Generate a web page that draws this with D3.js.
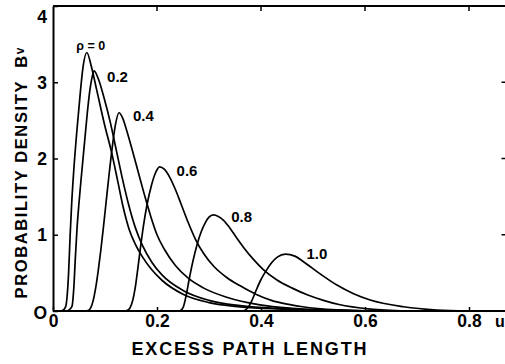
<!DOCTYPE html>
<html>
<head>
<meta charset="utf-8">
<script src="https://cdn.jsdelivr.net/npm/d3@7"></script>
<style>
  body { margin: 0; background: #fff; }
  text { font-family: "Liberation Sans", Arial, sans-serif; font-weight: bold; fill: #000; }
</style>
</head>
<body>
<div id="chart"></div>
<script>
// curve labels (correlation rho)
const curveLabels = ["\u03c1 = 0", "0.2", "0.4", "0.6", "0.8", "1.0"];

// [excess path length u, probability density]
const rho00 = [[0.012,0],[0.019,0.01],[0.024,0.05],[0.027,0.18],[0.030,0.5],[0.033,1.0],[0.036,1.42],[0.040,1.85],[0.046,2.37],[0.053,2.9],[0.058,3.21],[0.065,3.39],[0.074,3.2],[0.084,2.9],[0.100,2.42],[0.112,2.1],[0.124,1.72],[0.135,1.36],[0.146,1.08],[0.158,0.88],[0.172,0.71],[0.19,0.54],[0.21,0.4],[0.25,0.22],[0.3,0.11],[0.36,0.055],[0.44,0.025],[0.53,0.008],[0.64,0]];
const rho02 = [[0.024,0],[0.03,0.01],[0.0365,0.06],[0.04,0.3],[0.043,0.7],[0.046,1.06],[0.050,1.42],[0.055,1.8],[0.0605,2.2],[0.066,2.6],[0.071,2.9],[0.075,3.06],[0.079,3.15],[0.088,3.03],[0.098,2.8],[0.11,2.48],[0.122,2.1],[0.134,1.72],[0.146,1.38],[0.158,1.1],[0.172,0.86],[0.19,0.64],[0.21,0.47],[0.25,0.27],[0.3,0.14],[0.36,0.07],[0.44,0.03],[0.53,0.01],[0.66,0]];
const rho04 = [[0.06,0],[0.067,0.005],[0.072,0.035],[0.077,0.13],[0.082,0.3],[0.087,0.53],[0.092,0.8],[0.097,1.1],[0.102,1.42],[0.108,1.8],[0.114,2.15],[0.12,2.44],[0.127,2.6],[0.134,2.53],[0.142,2.36],[0.152,2.12],[0.164,1.82],[0.176,1.52],[0.188,1.24],[0.2,1.0],[0.215,0.8],[0.235,0.6],[0.26,0.43],[0.29,0.3],[0.334,0.18],[0.398,0.08],[0.46,0.035],[0.55,0.01],[0.62,0]];
const rho06 = [[0.135,0],[0.142,0.005],[0.148,0.04],[0.153,0.13],[0.158,0.3],[0.163,0.55],[0.168,0.82],[0.174,1.12],[0.181,1.4],[0.189,1.64],[0.197,1.81],[0.205,1.89],[0.214,1.86],[0.224,1.76],[0.235,1.6],[0.247,1.39],[0.26,1.16],[0.274,0.94],[0.29,0.75],[0.31,0.58],[0.334,0.44],[0.36,0.33],[0.39,0.22],[0.42,0.14],[0.45,0.09],[0.48,0.056],[0.546,0.015],[0.62,0]];
const rho08 = [[0.24,0],[0.246,0.01],[0.251,0.06],[0.256,0.2],[0.262,0.42],[0.269,0.65],[0.277,0.87],[0.285,1.04],[0.293,1.16],[0.3,1.23],[0.308,1.26],[0.318,1.24],[0.328,1.19],[0.34,1.09],[0.353,0.96],[0.368,0.82],[0.385,0.68],[0.405,0.54],[0.43,0.41],[0.46,0.3],[0.49,0.21],[0.52,0.14],[0.55,0.085],[0.61,0.025],[0.68,0]];
const rho10 = [[0.362,0],[0.369,0.01],[0.375,0.045],[0.382,0.13],[0.39,0.26],[0.399,0.4],[0.409,0.52],[0.42,0.63],[0.432,0.71],[0.447,0.745],[0.465,0.72],[0.481,0.65],[0.513,0.49],[0.546,0.34],[0.577,0.23],[0.61,0.144],[0.674,0.056],[0.738,0.013],[0.8,0]];

const xTicks = [0, 0.2, 0.4, 0.6, 0.8];
const xTickLabels = ["0", "0.2", "0.4", "0.6", "0.8"];
const yTicks = [0, 1, 2, 3, 4];
const yTickLabels = ["O", "1", "2", "3", "4"];

const series = [rho00, rho02, rho04, rho06, rho08, rho10];

const width = 505, height = 364;
const svg = d3.select("#chart").append("svg")
  .attr("width", width)
  .attr("height", height);

const x = d3.scaleLinear().domain([0, 1]).range([53, 573]);
const y = d3.scaleLinear().domain([0, 4]).range([311, 6]);
const xRight = x(0.876);

// frame: top and right edges
svg.append("line")
  .attr("x1", x(0)).attr("x2", xRight)
  .attr("y1", y(4)).attr("y2", y(4))
  .attr("stroke", "#000").attr("stroke-width", 2);
svg.append("line")
  .attr("x1", xRight).attr("x2", xRight)
  .attr("y1", y(4)).attr("y2", y(0))
  .attr("stroke", "#000").attr("stroke-width", 2);

// inward ticks on top and right
svg.append("g").selectAll("line")
  .data(xTicks.slice(1))
  .join("line")
  .attr("x1", (d) => x(d)).attr("x2", (d) => x(d))
  .attr("y1", y(4)).attr("y2", y(4) + 5)
  .attr("stroke", "#000").attr("stroke-width", 1.5);
svg.append("g").selectAll("line")
  .data(yTicks.slice(1, 4))
  .join("line")
  .attr("x1", xRight - 7).attr("x2", xRight)
  .attr("y1", (d) => y(d)).attr("y2", (d) => y(d))
  .attr("stroke", "#000").attr("stroke-width", 1.5);

// bottom axis
const xAxis = svg.append("g")
  .attr("transform", `translate(0,${y(0)})`)
  .call(
    d3.axisBottom(x)
      .tickValues(xTicks)
      .tickFormat((d, i) => xTickLabels[i])
      .tickSizeInner(-4)
      .tickSizeOuter(0)
      .tickPadding(4)
  );
xAxis.select(".domain").attr("d", `M${x(0)},0H${xRight}`).attr("stroke-width", 2);
xAxis.selectAll(".tick line").attr("stroke-width", 1.5);
xAxis.selectAll(".tick text")
  .attr("font-size", 17.5)
  .attr("font-family", "Liberation Sans, Arial, sans-serif")
  .attr("font-weight", "bold");

// left axis
const yAxis = svg.append("g")
  .attr("transform", `translate(${x(0)},0)`)
  .call(
    d3.axisLeft(y)
      .tickValues(yTicks)
      .tickFormat((d, i) => yTickLabels[i])
      .tickSizeInner(-5)
      .tickSizeOuter(0)
      .tickPadding(6)
  );
yAxis.select(".domain").attr("stroke-width", 2);
yAxis.selectAll(".tick line").attr("stroke-width", 1.5);
yAxis.selectAll(".tick text")
  .attr("font-size", 17.5)
  .attr("font-family", "Liberation Sans, Arial, sans-serif")
  .attr("font-weight", "bold")
  .attr("dy", (d) => (d === 4 ? "0.95em" : d === 0 ? "0.45em" : "0.35em"));

// the lone "u" at the right end of the x axis
svg.append("text")
  .attr("x", 495)
  .attr("y", y(0) + 16)
  .attr("font-size", 16)
  .text("u");

// axis titles
svg.append("text")
  .attr("x", 249)
  .attr("y", 355)
  .attr("text-anchor", "middle")
  .attr("font-size", 18)
  .attr("textLength", 235)
  .attr("lengthAdjust", "spacing")
  .text("EXCESS PATH LENGTH");

const yTitle = svg.append("text")
  .attr("transform", "translate(27,173) rotate(-90)")
  .attr("text-anchor", "middle")
  .attr("font-size", 16.5)
  .attr("textLength", 251)
  .attr("lengthAdjust", "spacing")
  .style("white-space", "pre");
yTitle.append("tspan").text("PROBABILITY DENSITY  B");
yTitle.append("tspan").attr("font-size", 12).attr("dy", -3).text("v");

// curves
const line = d3.line()
  .x((d) => x(d[0]))
  .y((d) => y(d[1]))
  .curve(d3.curveMonotoneX);

svg.append("g")
  .selectAll("path")
  .data(series)
  .join("path")
  .attr("d", line)
  .attr("fill", "none")
  .attr("stroke", "#000")
  .attr("stroke-width", 1.7);

// labels next to each peak (pixel offsets from the peak)
const labelOffsets = [[4, -3], [13, 11], [14, 8], [17, 9.5], [18, 7], [21, 4.5]];
const labelSizes = [12.5, 15, 15, 15, 15, 15];

svg.append("g")
  .selectAll("text")
  .data(series)
  .join("text")
  .each(function (d, i) {
    const peak = d3.greatest(d, (p) => p[1]);
    d3.select(this)
      .attr("x", x(peak[0]) + labelOffsets[i][0])
      .attr("y", y(peak[1]) + labelOffsets[i][1])
      .attr("text-anchor", i === 0 ? "middle" : "start")
      .attr("font-size", labelSizes[i])
      .text(curveLabels[i]);
  });
</script>
</body>
</html>
